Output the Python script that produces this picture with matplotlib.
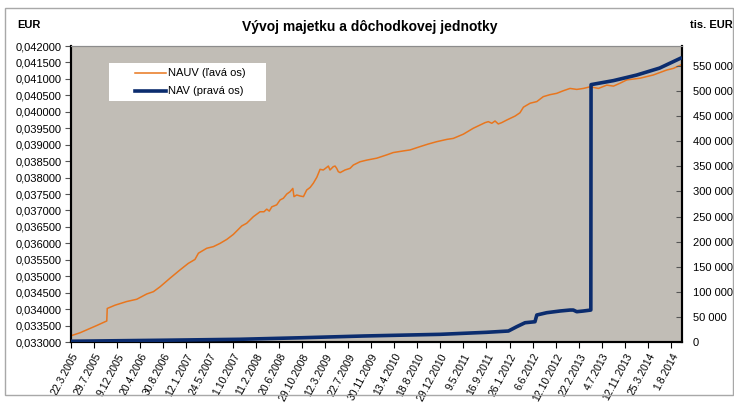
import matplotlib
matplotlib.use("Agg")
import matplotlib.pyplot as plt
from matplotlib.patches import Rectangle
from matplotlib.lines import Line2D
from matplotlib.ticker import FuncFormatter, MultipleLocator

plt.rcParams['font.family'] = ['Liberation Sans', 'DejaVu Sans']

# x = position on the category axis, in label intervals (0 = 22.3.2005)
x_labels = ['22.3.2005', '29.7.2005', '9.12.2005', '20.4.2006', '30.8.2006', '12.1.2007',
            '24.5.2007', '1.10.2007', '11.2.2008', '20.6.2008', '29.10.2008', '12.3.2009',
            '22.7.2009', '30.11.2009', '13.4.2010', '18.8.2010', '29.12.2010', '9.5.2011',
            '16.9.2011', '26.1.2012', '6.6.2012', '12.10.2012', '22.2.2013', '4.7.2013',
            '12.11.2013', '25.3.2014', '1.8.2014']

nauv_x = [0.00, 0.39, 1.11, 1.55, 1.57, 1.91, 2.41, 2.85, 3.28, 3.57, 3.86, 4.29, 4.72,
          5.08, 5.37, 5.52, 5.88, 6.17, 6.46, 6.75, 7.03, 7.40, 7.61, 7.90, 8.19, 8.36,
          8.48, 8.59, 8.70, 8.91, 9.06, 9.20, 9.35, 9.49, 9.61, 9.66, 9.78, 9.92, 10.07,
          10.21, 10.36, 10.50, 10.65, 10.79, 10.93, 11.08, 11.15, 11.22, 11.36, 11.44,
          11.51, 11.58, 11.66, 11.87, 12.09, 12.23, 12.52, 12.81, 13.25, 13.68, 13.96,
          14.40, 14.69, 15.12, 15.48, 15.84, 16.28, 16.56, 17.00, 17.43, 17.94, 18.08,
          18.23, 18.37, 18.51, 18.66, 18.88, 19.24, 19.45, 19.60, 19.89, 20.18, 20.46,
          20.75, 21.04, 21.33, 21.62, 21.91, 22.20, 22.49, 22.85, 23.21, 23.50, 23.79,
          24.08, 24.65, 25.23, 25.81, 26.10, 26.47]
nauv_val = [0.03319, 0.03328, 0.03350, 0.03364, 0.03402, 0.03412, 0.03423, 0.03430, 0.03446,
            0.03453, 0.03468, 0.03494, 0.03519, 0.03539, 0.03551, 0.03570, 0.03585, 0.03590,
            0.03600, 0.03612, 0.03627, 0.03653, 0.03661, 0.03681, 0.03696, 0.03696, 0.03704,
            0.03698, 0.03711, 0.03717, 0.03732, 0.03737, 0.03750, 0.03757, 0.03767, 0.03742,
            0.03747, 0.03744, 0.03742, 0.03762, 0.03770, 0.03783, 0.03801, 0.03825, 0.03823,
            0.03831, 0.03835, 0.03823, 0.03833, 0.03835, 0.03828, 0.03818, 0.03815, 0.03823,
            0.03828, 0.03838, 0.03848, 0.03853, 0.03859, 0.03869, 0.03876, 0.03881, 0.03884,
            0.03894, 0.03902, 0.03909, 0.03916, 0.03919, 0.03932, 0.03950, 0.03967, 0.03970,
            0.03965, 0.03972, 0.03963, 0.03967, 0.03975, 0.03987, 0.03997, 0.04014, 0.04026,
            0.04031, 0.04046, 0.04052, 0.04056, 0.04064, 0.04071, 0.04068, 0.04071, 0.04076,
            0.04071, 0.04081, 0.04078, 0.04087, 0.04097, 0.04102, 0.04112, 0.04127, 0.04132,
            0.04144]

nav_x = [0.00, 2.0, 4.0, 7.3, 10.0, 12.7, 16.0, 17.0, 18.0, 18.95, 19.31, 19.67, 20.10,
         20.18, 20.61, 21.19, 21.62, 21.76, 21.91, 22.20, 22.52, 22.53, 23.5, 24.5,
         25.5, 26.47]
nav_val = [1500, 2500, 3500, 5400, 8500, 12000, 15300, 17300, 19300, 21900, 30500, 38400,
           40400, 53800, 58400, 61800, 63700, 63700, 60400, 61800, 63700, 513000, 521000,
           532000, 546000, 567000]

W, H = 734, 405
fig = plt.figure(figsize=(W / 100, H / 100), dpi=100)
ax = fig.add_axes([71 / W, 1 - 342 / H, (682 - 71) / W, (342 - 46) / H])
ax.set_facecolor('#C1BDB6')

ax.plot(nauv_x, nauv_val, color='#E8761E', lw=1.1, zorder=3)
ax.set_xlim(0, 26.47)
ax.set_ylim(0.033, 0.042)
ax.yaxis.set_major_locator(MultipleLocator(0.0005))
ax.yaxis.set_major_formatter(FuncFormatter(lambda v, p: f"{v:.6f}".replace('.', ',')))
ax.set_xticks(range(len(x_labels)))
ax.set_xticklabels(x_labels, rotation=62, ha='right', va='top', rotation_mode='anchor')
ax.tick_params(axis='x', direction='out', length=4, labelsize=7.5, pad=3)
ax.tick_params(axis='y', direction='out', length=4, labelsize=8, pad=3, color='#555555')

ax2 = ax.twinx()
ax2.plot(nav_x, nav_val, color='#0B2C6E', lw=2.6, zorder=4, solid_capstyle='butt')
ax2.set_ylim(0, 590000)
ax2.yaxis.set_major_locator(MultipleLocator(50000))
ax2.yaxis.set_major_formatter(FuncFormatter(lambda v, p: f"{int(v):,}".replace(',', ' ')))
ax2.tick_params(axis='y', direction='in', length=4, labelsize=8, pad=8, color='#555555')

for a in (ax, ax2):
    a.spines['top'].set_color('#8C8C8C')
    a.spines['left'].set_linewidth(1.5)
    a.spines['bottom'].set_linewidth(1.5)
    a.spines['right'].set_linewidth(1.5)

# legend box drawn by hand
ax.add_patch(Rectangle((109 / W, 1 - 101 / H), 157 / W, 38 / H, transform=fig.transFigure,
                       facecolor='white', edgecolor='none', zorder=5))
fig.add_artist(Line2D([135 / W, 166 / W], [1 - 73 / H, 1 - 73 / H], color='#E8761E', lw=1.1))
fig.add_artist(Line2D([135 / W, 166 / W], [1 - 91 / H, 1 - 91 / H], color='#0B2C6E', lw=2.6))
fig.text(168 / W, 1 - 73 / H, 'NAUV (ľavá os)', fontsize=8, va='center')
fig.text(168 / W, 1 - 91 / H, 'NAV (pravá os)', fontsize=8, va='center')

fig.text(370 / W, 1 - 27 / H, 'Vývoj majetku a dôchodkovej jednotky', fontsize=10,
         fontweight='bold', ha='center', va='center')
fig.text(17 / W, 1 - 25 / H, 'EUR', fontsize=8, fontweight='bold', va='center')
fig.text(690 / W, 1 - 25 / H, 'tis. EUR', fontsize=8, fontweight='bold', va='center')

fig.patches.append(Rectangle((5 / W, 1 - 395 / H), 728 / W, 387 / H, transform=fig.transFigure,
                             fill=False, edgecolor='#A8A8A8', lw=1))

fig.savefig('out.png', dpi=100)
